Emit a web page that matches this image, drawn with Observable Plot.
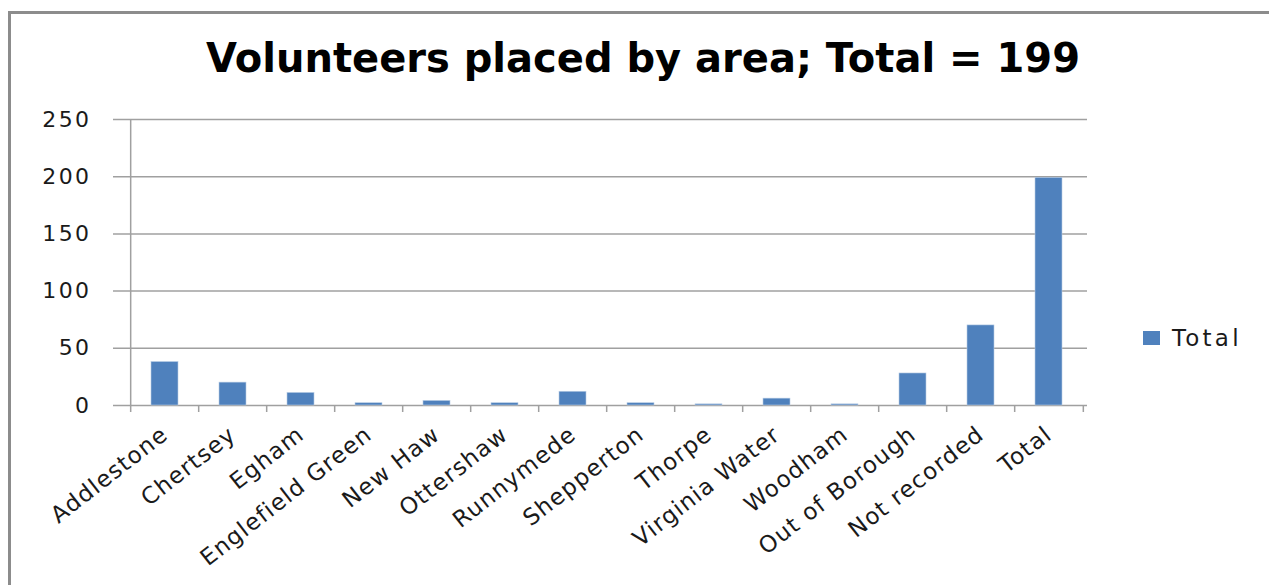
<!DOCTYPE html>
<html>
<head>
<meta charset="utf-8">
<script src="https://cdn.jsdelivr.net/npm/d3@7"></script>
<script src="https://cdn.jsdelivr.net/npm/@observablehq/plot@0.6"></script>
<style>
  html, body { margin: 0; padding: 0; background: #fff; }
  #wrap { position: relative; width: 1269px; height: 585px; overflow: hidden; }
  #frame { position: absolute; left: 8px; top: 11px; width: 1400px; height: 700px;
           border-left: 3px solid #8c8c8c; border-top: 3px solid #8c8c8c; }
  #title { position: absolute; left: 0; width: 1286px; top: 35px; text-align: center;
           font-family: "DejaVu Sans", sans-serif; font-weight: bold; font-size: 40px;
           color: #000; line-height: 46px; white-space: nowrap; }
  #chart { position: absolute; left: 0; top: 0; }
  #chart g[aria-label^="x-axis"] text { font-size: 23px !important; letter-spacing: 1.2px; }
  #chart g[aria-label^="y-axis"] text { font-size: 22px !important; letter-spacing: 2.4px; }
  #legend { position: absolute; left: 1143px; top: 325px; font-family: "DejaVu Sans", sans-serif;
            font-size: 23px; color: #1a1a1a; display: flex; align-items: center; letter-spacing: 3.2px; }
  #legend .sw { width: 17px; height: 14px; background: #4f81bd; margin-right: 12px; }
</style>
</head>
<body>
<div id="wrap">
  <div id="frame"></div>
  <div id="chart"></div>
  <div id="title"></div>
  <div id="legend"></div>
</div>
<script>
const titleText = "Volunteers placed by area; Total = 199";
const seriesName = "Total";
const categories = ["Addlestone", "Chertsey", "Egham", "Englefield Green", "New Haw", "Ottershaw",
  "Runnymede", "Shepperton", "Thorpe", "Virginia Water", "Woodham", "Out of Borough", "Not recorded", "Total"];
const values = [38, 20, 11, 2, 4, 2, 12, 2, 1, 6, 1, 28, 70, 199];
const yTicks = [0, 50, 100, 150, 200, 250];
const barColor = "#4f81bd";

const data = categories.map((c, i) => ({area: c, value: values[i]}));
const W = 1269, H = 585, mL = 126, mR = 182, mT = 119, mB = 180;
const step = (W - mL - mR) / categories.length;

const chart = Plot.plot({
  width: W, height: H,
  marginLeft: mL, marginRight: mR, marginTop: mT, marginBottom: mB,
  style: {fontFamily: "DejaVu Sans", fontSize: "22px", color: "#1a1a1a", background: "transparent", overflow: "visible"},
  x: {domain: categories, paddingInner: 0.6, paddingOuter: 0.3, label: null, tickSize: 0, tickPadding: 26, tickRotate: -38},
  y: {domain: [0, 250], ticks: yTicks, label: null, tickSize: 0, tickPadding: 35},
  marks: [
    Plot.ruleY(yTicks, {stroke: "#a0a0a0", strokeWidth: 1.5, insetLeft: -13}),
    Plot.barY(data, {x: "area", y: "value", fill: barColor, stroke: "#b9cde5", strokeWidth: 0.6}),
    Plot.ruleX(categories, {x: d => d, y1: (d, i) => i === 0 ? 250 : 0, y2: 0, dx: -step / 2, insetBottom: -7, stroke: "#a0a0a0", strokeWidth: 1.5}),
    Plot.ruleX(categories.slice(-1), {x: d => d, y1: 0, y2: 0, dx: step / 2, insetBottom: -7, stroke: "#a0a0a0", strokeWidth: 1.5})
  ]
});
document.getElementById("chart").appendChild(chart);
document.getElementById("title").textContent = titleText;
document.getElementById("legend").innerHTML = `<div class="sw"></div><span>${seriesName}</span>`;
</script>
</body>
</html>
